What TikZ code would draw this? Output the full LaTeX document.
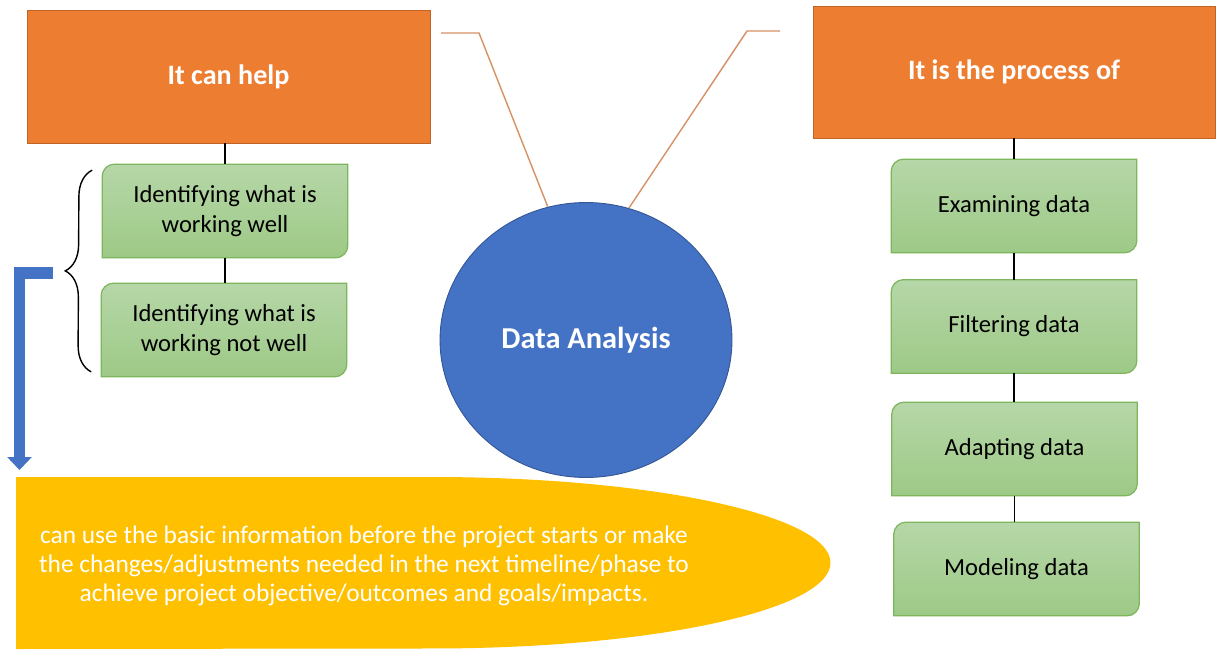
\documentclass[tikz,border=0pt]{standalone}
\usepackage{fontspec}
\setmainfont{Carlito}
\usetikzlibrary{arrows.meta,shapes.geometric,decorations.pathreplacing,backgrounds}

\definecolor{boxorange}{RGB}{237,125,49}
\definecolor{boxblue}{RGB}{68,114,196}
\definecolor{noteyellow}{RGB}{255,192,0}
\definecolor{greentop}{RGB}{182,215,168}
\definecolor{greenbottom}{RGB}{157,201,134}
\definecolor{greenedge}{RGB}{125,182,92}
\definecolor{tanline}{RGB}{214,145,100}

\begin{document}
\begin{tikzpicture}[x=0.02cm,y=-0.02cm,
	titlebox/.style={fill=boxorange,draw=boxorange!80!black,line width=0.5pt,text=white,font=\fontsize{16}{19}\selectfont\bfseries,inner sep=0pt},
	stepbox/.style={minimum width=4.9cm,minimum height=1.86cm,inner sep=0pt,align=center,font=\fontsize{14}{17}\selectfont},
	greenshade/.style={top color=greentop,bottom color=greenbottom,draw=greenedge,line width=0.7pt},
	linkline/.style={black,line width=1pt},
	hookline/.style={tanline,line width=0.8pt}]
	\useasboundingbox (0,0) rectangle (1216,652);

	%title boxes
	\node[titlebox,minimum width=8.06cm,minimum height=2.66cm] (help) at (228.5,76.5) {It can help};
	\node[titlebox,minimum width=8.04cm,minimum height=2.64cm] (process) at (1014,72) {It is the process of};

	%centre circle
	\node[ellipse,fill=boxblue,draw=boxblue!75!black,line width=0.5pt,minimum width=5.84cm,minimum height=5.5cm,text=white,font=\fontsize{17.3}{20}\selectfont\bfseries] (da) at (586,340) {Data Analysis};

	%hook lines
	\coordinate (lhook) at (441,33);
	\coordinate (rhook) at (780,31);
	\draw[hookline] (lhook) -- ++(38,0) -- (da.106); %left hook
	\draw[hookline] (rhook) -- ++(-33,0) -- (da.72.5); %right hook

	%left steps
	\node[stepbox] (wl1) at (225,211) {Identifying what is\\working well};
	\node[stepbox] (wl2) at (224,330) {Identifying what is\\working not well};

	%right steps
	\foreach \n/\x/\y/\txt in {ex/1014/206/Examining data, fi/1014/326.5/Filtering data, ad/1014.5/449/Adapting data, mo/1016.5/569/Modeling data}
		\node[stepbox] (\n) at (\x,\y) {\txt};

	%page and green shapes
	\begin{scope}[on background layer]
		\fill[white] (0,0) rectangle (1216,652);
		\foreach \n in {wl1,wl2,ex,fi,ad,mo}
			\path[greenshade] (\n.south west) -- ([yshift=-7pt]\n.north west) arc[start angle=180,end angle=90,radius=7pt] -- (\n.north east) -- ([yshift=7pt]\n.south east) arc[start angle=0,end angle=-90,radius=7pt] -- cycle;
	\end{scope}

	%connectors
	\draw[linkline] (wl1.north |- help.south) -- (wl1.north);
	\draw[linkline] (wl1.south) -- (wl1.south |- wl2.north);
	\draw[linkline] (process.south) -- (ex.north);
	\draw[linkline] (ex.south) -- (fi.north);
	\draw[linkline] (fi.south) -- (fi.south |- ad.north);
	\draw[linkline] (ad.south) -- (ad.south |- mo.north);

	%brace
	\draw[black,line width=0.8pt,decorate,decoration={brace,amplitude=15pt}] ([shift={(-10,-5)}]wl2.south west) -- ([shift={(-10,6)}]wl1.north west);

	%note shape
	\fill[noteyellow] (16,477) -- (432,477) arc[start angle=90,end angle=-90,x radius=226.8pt,y radius=48.8pt] -- (16,649) -- cycle;
	\node[text=white,align=center,font=\fontsize{14.45}{16.4}\selectfont] (note) at (364,566) {can use the basic information before the project starts or make\\the changes/adjustments needed in the next timeline/phase to\\achieve project objective/outcomes and goals/impacts.};

	%bent arrow
	\coordinate (bendstart) at (53,273);
	\coordinate (bendend) at (19.5,470);
	\draw[boxblue,line width=6.5pt,-{Triangle[width=13.6pt,length=7.4pt]}] (bendstart) -| (bendend);
\end{tikzpicture}
\end{document}
